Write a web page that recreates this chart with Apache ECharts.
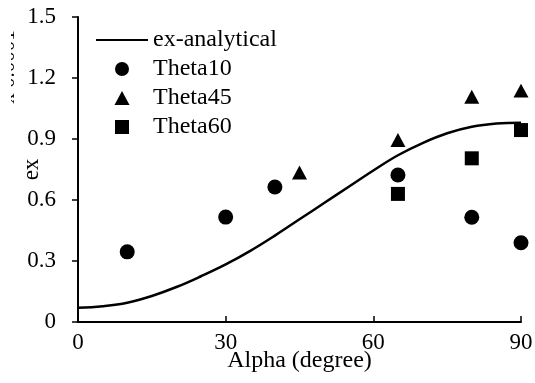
<!DOCTYPE html>
<html>
<head>
<meta charset="utf-8">
<script src="https://cdn.jsdelivr.net/npm/echarts@6/dist/echarts.min.js"></script>
<style>
  html, body { margin: 0; padding: 0; background: #fff; }
  #chart { width: 535px; height: 383px; }
</style>
</head>
<body>
<div id="chart"></div>
<script>
// Analytical curve ex(alpha)
const analyticalAlpha = [0, 5, 10, 15, 20, 25, 30, 35, 40, 45, 50, 55, 60, 65, 70, 75, 80, 85, 90];
const analyticalEx    = [0.070, 0.078, 0.095, 0.128, 0.172, 0.225, 0.283, 0.350, 0.425, 0.505, 0.585, 0.665, 0.745, 0.820, 0.880, 0.928, 0.960, 0.976, 0.980];

// Measured points per theta
const theta10Alpha = [10, 30, 40, 65, 80, 90];
const theta10Ex    = [0.345, 0.516, 0.664, 0.723, 0.515, 0.390];
const theta45Alpha = [45, 65, 80, 90];
const theta45Ex    = [0.735, 0.895, 1.108, 1.138];
const theta60Alpha = [65, 80, 90];
const theta60Ex    = [0.630, 0.805, 0.944];

const yTicks = [0, 0.3, 0.6, 0.9, 1.2, 1.5];
const xTicks = [0, 30, 60, 90];

const zip = (xs, ys) => xs.map((x, i) => [x, ys[i]]);
const FONT = 'Liberation Serif';
const FS = 23;
const TRIANGLE = 'path://M5,0 L10,9.3 L0,9.3 Z';
const SQUARE = 'path://M0,0 L10,0 L10,10 L0,10 Z';

const chart = echarts.init(document.getElementById('chart'), null, { renderer: 'canvas' });

chart.setOption({
  animation: false,
  backgroundColor: '#fff',
  textStyle: { fontFamily: FONT, color: '#000' },
  grid: { left: 78, right: 14, top: 17, bottom: 61, containLabel: false, outerBoundsMode: 'none' },
  legend: {
    orient: 'vertical',
    left: 95,
    top: 28,
    padding: 0,
    itemWidth: 52,
    itemHeight: 14,
    itemGap: 5,
    textStyle: { fontFamily: FONT, fontSize: 24, color: '#000' },
    data: [
      { name: 'ex-analytical', itemStyle: { color: 'rgba(0,0,0,0)', borderWidth: 0 } },
      { name: 'Theta10', icon: 'circle' },
      { name: 'Theta45', icon: TRIANGLE },
      { name: 'Theta60', icon: SQUARE }
    ]
  },
  xAxis: {
    type: 'value',
    min: xTicks[0],
    max: xTicks[xTicks.length - 1],
    interval: 30,
    name: 'Alpha (degree)',
    nameLocation: 'middle',
    nameGap: 27,
    nameMoveOverlap: false,
    nameTextStyle: { fontFamily: FONT, fontSize: 24, color: '#000' },
    axisLine: { show: true, lineStyle: { color: '#000', width: 2 } },
    axisTick: { show: true, inside: true, length: 6, lineStyle: { color: '#000', width: 1.5 } },
    axisLabel: { fontFamily: FONT, fontSize: FS, color: '#000', margin: 9 },
    splitLine: { show: false }
  },
  yAxis: {
    type: 'value',
    min: yTicks[0],
    max: yTicks[yTicks.length - 1],
    interval: 0.3,
    name: 'ex',
    nameLocation: 'middle',
    nameGap: 35,
    nameMoveOverlap: false,
    nameTextStyle: { fontFamily: FONT, fontSize: 23, color: '#000' },
    axisLine: { show: true, lineStyle: { color: '#000', width: 2 } },
    axisTick: { show: true, inside: false, length: 6, lineStyle: { color: '#000', width: 1.5 } },
    axisLabel: {
      fontFamily: FONT, fontSize: FS, color: '#000', margin: 22,
      formatter: v => String(Math.round(v * 10) / 10)
    },
    splitLine: { show: false }
  },
  graphic: [
    {
      // scale note, cut off at the left edge
      type: 'text',
      x: 19, y: 67,
      rotation: Math.PI / 2,
      style: {
        text: 'x 0.0001',
        font: '21px "Liberation Serif"',
        fill: '#000',
        align: 'center',
        verticalAlign: 'bottom'
      },
      z: 1
    },
    {
      type: 'rect',
      shape: { x: 0, y: 10, width: 11, height: 110 },
      style: { fill: '#fff' },
      z: 2
    }
  ],
  series: [
    {
      name: 'ex-analytical',
      type: 'line',
      data: zip(analyticalAlpha, analyticalEx),
      smooth: 0.4,
      symbol: 'none',
      lineStyle: { color: '#000', width: 2.5 },
      itemStyle: { color: '#000' },
      z: 2
    },
    {
      name: 'Theta10',
      type: 'scatter',
      data: zip(theta10Alpha, theta10Ex),
      symbol: 'circle',
      symbolSize: 15,
      itemStyle: { color: '#000', opacity: 1 },
      z: 3
    },
    {
      name: 'Theta45',
      type: 'scatter',
      data: zip(theta45Alpha, theta45Ex),
      symbol: TRIANGLE,
      symbolKeepAspect: true,
      symbolSize: 15,
      itemStyle: { color: '#000', opacity: 1 },
      z: 3
    },
    {
      name: 'Theta60',
      type: 'scatter',
      data: zip(theta60Alpha, theta60Ex),
      symbol: SQUARE,
      symbolKeepAspect: true,
      symbolSize: 14,
      itemStyle: { color: '#000', opacity: 1 },
      z: 3
    }
  ]
});
</script>
</body>
</html>
